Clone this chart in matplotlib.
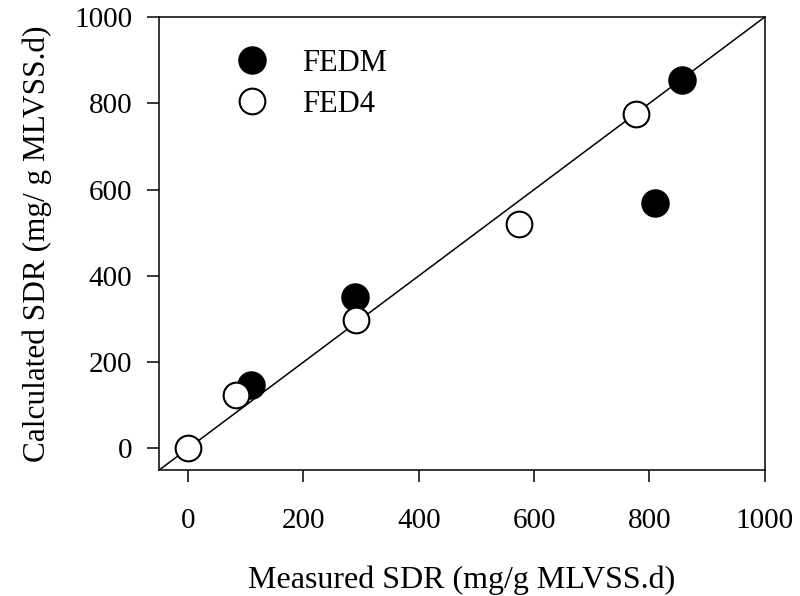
import matplotlib
matplotlib.use("Agg")
import matplotlib.pyplot as plt

plt.rcParams['font.family'] = ['Liberation Serif', 'DejaVu Serif']

fedm_x = [110, 290, 809, 856]
fedm_y = [146, 351, 570, 854]
fed4_x = [0, 84, 292, 574, 776]
fed4_y = [0, 125, 298, 521, 774]
line_x = [-50, 1000]
line_y = [-50, 1000]
ticks = [0, 200, 400, 600, 800, 1000]

fig = plt.figure(figsize=(8, 5.96), dpi=100)
ax = fig.add_axes([0.199, 0.2114, 0.757, 0.7601])

ax.plot(line_x, line_y, color='black', lw=1.1, zorder=1)
ax.plot(fedm_x, fedm_y, 'o', ms=19.5, mfc='black', mec='black', mew=1, label='FEDM', zorder=2)
ax.plot(fed4_x, fed4_y, 'o', ms=18.5, mfc='white', mec='black', mew=1.5, label='FED4', zorder=3)

ax.set_xlim(-50, 1000)
ax.set_ylim(-50, 1000)
ax.set_xticks(ticks)
ax.set_yticks(ticks)
ax.tick_params(direction='out', length=8.6, width=1.1, labelsize=21)
ax.tick_params(axis='x', pad=18.5)
ax.tick_params(axis='y', pad=10.8)
for s in ax.spines.values():
    s.set_linewidth(1.1)

ax.set_xlabel('Measured SDR (mg/g MLVSS.d)', fontsize=23)
ax.set_ylabel('Calculated SDR (mg/ g MLVSS.d)', fontsize=22.5)
ax.xaxis.set_label_coords(0.5, -0.21)
ax.yaxis.set_label_coords(-0.177, 0.5)

ax.legend(loc='upper left', frameon=False, fontsize=22, bbox_to_anchor=(0.128, 0.929),
          borderaxespad=0, borderpad=0, handlelength=1.0, handletextpad=1.13,
          labelspacing=0.375)

fig.savefig('out.png', dpi=100)
